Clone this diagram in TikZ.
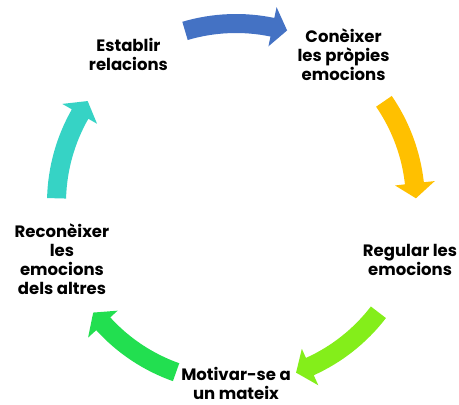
\documentclass[tikz,border=0pt]{standalone}
\usepackage{fontspec}
\setmainfont{Poppins}
\definecolor{cblue}{HTML}{4472C4}
\definecolor{cyellow}{HTML}{FFC000}
\definecolor{clime}{HTML}{84EE1A}
\definecolor{cgreen}{HTML}{22DF50}
\definecolor{cteal}{HTML}{36D3C5}
\tikzset{
  lbl/.style={font=\bfseries\fontsize{16.5}{19}\selectfont, align=center, text=black, inner sep=0pt},
}
\newcommand\cyclearrow[2]{%
  \fill[#2] (#1+16.5:189) arc[start angle=#1+16.5, end angle=#1-11.7, radius=189]
    -- (#1-11.7:200) -- (#1-16.5:180) -- (#1-11.7:160) -- (#1-11.7:170)
    arc[start angle=#1-11.7, end angle=#1+16.5, radius=170] -- cycle;}
\begin{document}
\begin{tikzpicture}[x=1pt,y=1pt]
\useasboundingbox (0,0) rectangle (459,405);
\begin{scope}[shift={(236,202)}]
  \cyclearrow{90}{cblue}
  \cyclearrow{18}{cyellow}
  \cyclearrow{-54}{clime}
  \cyclearrow{-126}{cgreen}
  \cyclearrow{162}{cteal}
  \node[lbl] (n1) at (126:183) {Establir\\relacions};
  \node[lbl] (n2) at (54:183) {Conèixer\\les pròpies\\emocions};
  \node[lbl] (n3) at (-18:183) {Regular les\\emocions};
  \node[lbl] (n4) at (0,-180) {Motivar-se a\\un mateix};
  \node[lbl] (n5) at (198:183) {Reconèixer\\les\\emocions\\dels altres};
\end{scope}
\end{tikzpicture}
\end{document}
